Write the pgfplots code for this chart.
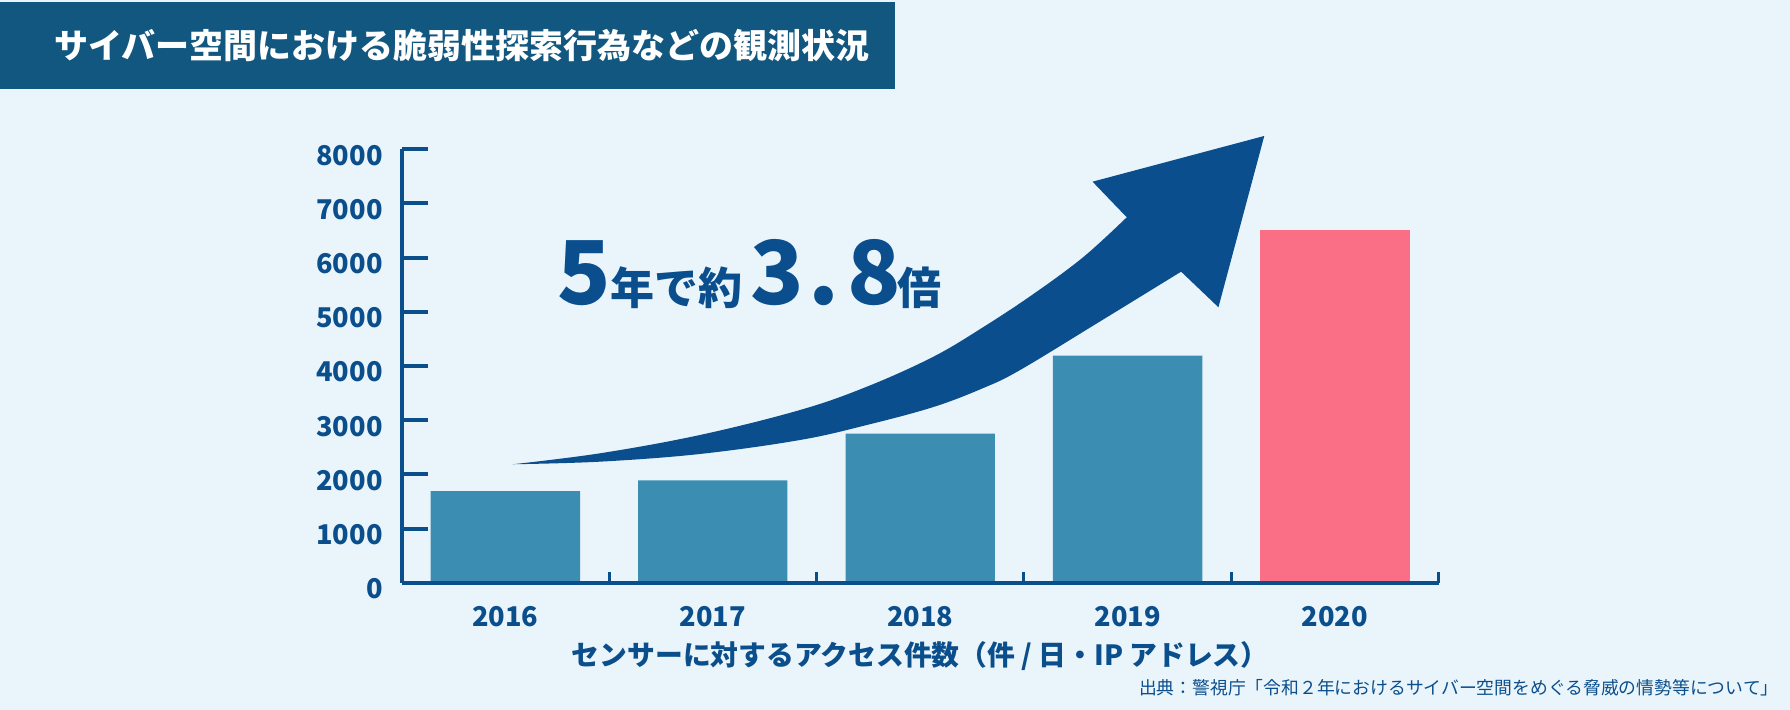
\documentclass[border=0pt]{standalone}
\usepackage{fontspec}
\setmainfont{Noto Sans CJK JP}
\usepackage{pgfplots}
\pgfplotsset{compat=1.18}

\definecolor{bgc}{HTML}{EAF5FB}
\definecolor{titlec}{HTML}{12577F}
\definecolor{axisc}{HTML}{0B4E8C}
\definecolor{barc}{HTML}{3C8DB2}
\definecolor{pinkc}{HTML}{FA6E86}
\definecolor{arrowc}{HTML}{0A4E8E}

\begin{document}
\begin{tikzpicture}
\useasboundingbox (0,0) rectangle (895pt,355pt);
% background and title, in pixel units (1px = 0.5pt)
\begin{scope}[x=0.5pt,y=0.5pt]
  \fill[bgc] (0,0) rectangle (1790,710);
  \fill[titlec] (0,621) rectangle (895,708);
  \node[anchor=west, inner sep=0, text=white,
        font=\bfseries\fontsize{17pt}{17pt}\selectfont] at (54,664)
        {サイバー空間における脆弱性探索行為などの観測状況};
\end{scope}

\begin{axis}[
  at={(200.85pt,63.65pt)}, anchor=south west,
  scale only axis, width=518.5pt, height=216.7pt,
  xmin=-0.5, xmax=4.5, ymin=0, ymax=8000,
  axis lines=left,
  axis line style={-, line width=2pt, draw=axisc},
  clip=false, axis on top,
  xtick={0,1,2,3,4},
  xticklabels={2016,2017,2018,2019,2020},
  minor xtick={0.5,1.5,2.5,3.5,4.5},
  major x tick style={draw=none},
  minor x tick style={draw=axisc, line width=1.5pt},
  minor tick length=5.5pt,
  ytick={0,1000,...,8000},
  y tick style={draw=axisc, line width=2pt},
  major tick length=13pt,
  tick align=inside,
  tick label style={font=\bfseries\fontsize{13.6pt}{13.6pt}\selectfont, text=axisc},
  yticklabel style={xshift=-6pt, yshift=-3pt},
  xticklabel style={yshift=-8.5pt},
  /pgf/number format/assume math mode=true,
  /pgf/number format/1000 sep={},
  scaled y ticks=false,
  xlabel={センサーに対するアクセス件数（件 / 日・IP アドレス）},
  xlabel style={at={(axis description cs:0.5,0)}, anchor=center, yshift=-36.5pt,
                font=\bfseries\fontsize{13.9pt}{13.9pt}\selectfont, text=axisc},
]
\addplot[ybar, bar width=0.72, bar shift=0pt, fill=barc, draw=none]
  coordinates {(0,1690) (1,1890) (2,2750) (3,4190)};
\addplot[ybar, bar width=0.72, bar shift=0pt, fill=pinkc, draw=none]
  coordinates {(4,6510)};

% growth arrow: lower edge, head, upper edge
\fill[arrowc] plot[smooth, tension=0.6] coordinates {(0.036,2186) (0.457,2234) (0.939,2376) (1.421,2634) (1.743,2911) (2.064,3243) (2.305,3594) (2.482,3926) (2.867,4822) (3.258,5741)}
  -- (3.438,5084) -- (3.659,8246) -- (2.831,7402) -- (2.996,6745)
  -- plot[smooth, tension=0.6] coordinates {(2.996,6745) (2.787,6012) (2.546,5329) (2.305,4720) (2.064,4172) (1.743,3618) (1.421,3188) (0.939,2727) (0.457,2389) (0.036,2186)}
  -- cycle;
\end{axis}

\begin{scope}[x=0.5pt,y=0.5pt]
  \node[anchor=base west, inner sep=0, text=arrowc, font=\bfseries] at (557,405)
    {{\fontsize{44pt}{44pt}\selectfont 5}{\fontsize{22pt}{22pt}\selectfont 年で約}\hspace{4pt}{\fontsize{44pt}{44pt}\selectfont 3\hspace{2pt}.\hspace{4pt}8}\hspace{-2pt}{\fontsize{22pt}{22pt}\selectfont 倍}};
  \node[anchor=east, inner sep=0, text=axisc,
        font=\fontsize{8.9pt}{8.9pt}\selectfont] at (1779,22)
    {出典：警視庁「令和２年におけるサイバー空間をめぐる脅威の情勢等について」};
\end{scope}
\end{tikzpicture}
\end{document}
